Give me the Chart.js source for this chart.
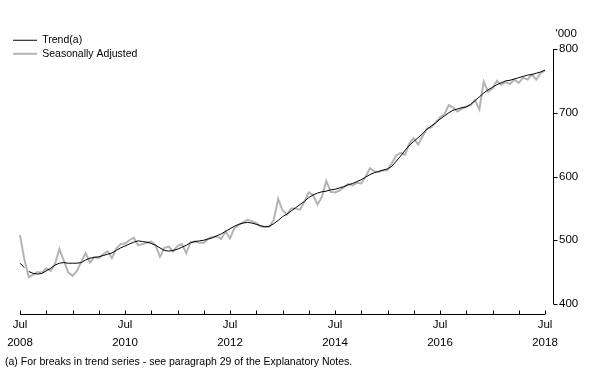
<!DOCTYPE html>
<html>
<head>
<meta charset="utf-8">
<script src="https://cdn.jsdelivr.net/npm/chart.js@4.4.0/dist/chart.umd.min.js"></script>
<style>
  html, body { margin: 0; padding: 0; background: #fff; }
  #wrap { width: 591px; height: 378px; }
</style>
</head>
<body>
<div id="wrap"><canvas id="chart" width="591" height="378"></canvas></div>
<script>
// Monthly series, Jul 2008 .. Jul 2018 ('000)
const MONTH_NAMES = ['Jan','Feb','Mar','Apr','May','Jun','Jul','Aug','Sep','Oct','Nov','Dec'];
const months = [];
for (let i = 0; i <= 120; i++) {
    const m = (6 + i) % 12;
    const y = 2008 + Math.floor((6 + i) / 12);
    months.push(MONTH_NAMES[m] + ' ' + y);
}

const trend = [
    464, 457, 451, 448, 447, 448, 452, 456, 461, 464, 465, 464,
    464, 464, 465, 469, 472, 473, 474, 476, 478, 480, 484, 488,
    491, 494, 497, 499, 498, 497, 495, 492, 488, 484, 483, 484,
    486, 489, 492, 496, 498, 499, 500, 502, 504, 507, 510, 514,
    518, 522, 525, 527, 528, 527, 525, 523, 521, 522, 526, 531,
    537, 541, 546, 551, 556, 561, 567, 571, 574, 576, 577, 579,
    580, 582, 584, 587, 589, 592, 595, 599, 603, 606, 608, 610,
    612, 616, 624, 632, 641, 649, 655, 661, 667, 674, 679, 684,
    690, 695, 700, 704, 706, 708, 709, 713, 719, 725, 731, 736,
    740, 744, 747, 750, 751, 753, 755, 757, 759, 760, 762, 764,
    767
];

const seasonallyAdjusted = [
    508, 470, 442, 446, 450, 449, 456, 452, 463, 486, 468, 450,
    444, 452, 466, 480, 465, 474, 472, 478, 483, 472, 487, 494,
    495, 500, 504, 492, 494, 496, 498, 492, 474, 488, 490, 482,
    491, 494, 480, 497, 498, 496, 496, 502, 505, 506, 502, 514,
    503, 519, 524, 528, 532, 530, 527, 521, 521, 521, 532, 565,
    547, 540, 550, 550, 548, 560, 575, 571, 556, 568, 593, 576,
    575, 578, 583, 588, 586, 590, 589, 600, 613, 608, 607, 610,
    610, 621, 633, 637, 634, 652, 660, 650, 663, 675, 677, 685,
    693, 697, 712, 708, 702, 706, 710, 712, 720, 705, 749, 733,
    738, 750, 744, 748, 745, 752, 747, 755, 752, 760, 752, 762,
    766
];

// index after which the trend series breaks
const TREND_BREAK_AFTER = 1;

const tickYears = ['2008', '2010', '2012', '2014', '2016', '2018'];
const yTicks = [400, 500, 600, 700, 800];

const FONT = "'Liberation Sans', Arial, sans-serif";
Chart.defaults.font.family = FONT;
Chart.defaults.font.size = 11.5;
Chart.defaults.color = '#000';

// axis lines, small ticks, unit label and footnote
const extras = {
    id: 'extras',
    afterLayout(chart) {
        // legend sits top-left, above the plot
        chart.legend.left = 10;
        chart.legend.top = 32;
    },
    afterDraw(chart) {
        const ctx = chart.ctx;
        const xs = chart.scales.x;
        const ys = chart.scales.y;
        ctx.save();
        ctx.strokeStyle = '#000';
        ctx.lineWidth = 1;

        // y axis on the right
        const ax = Math.round(chart.chartArea.right + 8) + 0.5;
        ctx.beginPath();
        ctx.moveTo(ax, ys.getPixelForValue(800));
        ctx.lineTo(ax, ys.getPixelForValue(400));
        yTicks.forEach(v => {
            const py = Math.round(ys.getPixelForValue(v)) + 0.5;
            ctx.moveTo(ax, py);
            ctx.lineTo(ax + 4, py);
        });
        ctx.stroke();

        // x axis below the plot
        const ay = Math.round(chart.chartArea.bottom + 10) + 0.5;
        ctx.beginPath();
        ctx.moveTo(xs.getPixelForValue(0), ay);
        ctx.lineTo(xs.getPixelForValue(120), ay);
        for (let i = 0; i <= 120; i += 6) {
            const px = Math.round(xs.getPixelForValue(i)) + 0.5;
            ctx.moveTo(px, ay);
            ctx.lineTo(px, ay - 4);
        }
        ctx.stroke();

        ctx.fillStyle = '#000';
        ctx.textBaseline = 'middle';
        ctx.textAlign = 'left';
        ctx.font = '11.5px ' + FONT;
        ctx.fillText("'000", ax + 2, 34);

        ctx.font = '10.5px ' + FONT;
        ctx.fillText('(a) For breaks in trend series - see paragraph 29 of the Explanatory Notes.', 5, 362);
        ctx.restore();
    }
};

new Chart(document.getElementById('chart'), {
    type: 'line',
    data: {
        labels: months,
        datasets: [
            {
                label: 'Trend(a)',
                data: trend,
                borderColor: '#000',
                borderWidth: 1,
                pointRadius: 0,
                tension: 0,
                segment: {
                    borderColor: c => c.p0DataIndex === TREND_BREAK_AFTER ? 'rgba(0,0,0,0)' : '#000'
                }
            },
            {
                label: 'Seasonally Adjusted',
                data: seasonallyAdjusted,
                borderColor: '#b4b4b4',
                borderWidth: 2,
                pointRadius: 0,
                tension: 0
            }
        ]
    },
    options: {
        responsive: false,
        animation: false,
        events: [],
        layout: { padding: { left: 20, top: 49, right: 0, bottom: 24 } },
        plugins: {
            tooltip: { enabled: false },
            legend: {
                position: 'chartArea',
                align: 'start',
                labels: {
                    usePointStyle: true,
                    pointStyle: 'line',
                    pointStyleWidth: 24,
                    padding: 3,
                    font: { size: 10.5 }
                }
            }
        },
        scales: {
            x: {
                type: 'category',
                offset: false,
                grid: { display: false, drawTicks: false },
                border: { display: false },
                afterFit: s => {
                    s.height = 50;
                    s.paddingLeft = 0;
                    s.paddingRight = 0;
                },
                ticks: {
                    autoSkip: false,
                    maxRotation: 0,
                    padding: 12,
                    font: { size: 11.5, lineHeight: 1.55 },
                    callback: (v, i) => i % 24 === 0 ? ['Jul', tickYears[i / 24]] : null
                }
            },
            y: {
                position: 'right',
                min: 400,
                max: 800,
                grid: { display: false, drawTicks: false },
                border: { display: false },
                afterFit: s => { s.width = 46; },
                ticks: { stepSize: 100, padding: 14 }
            }
        }
    },
    plugins: [extras]
});
</script>
</body>
</html>
